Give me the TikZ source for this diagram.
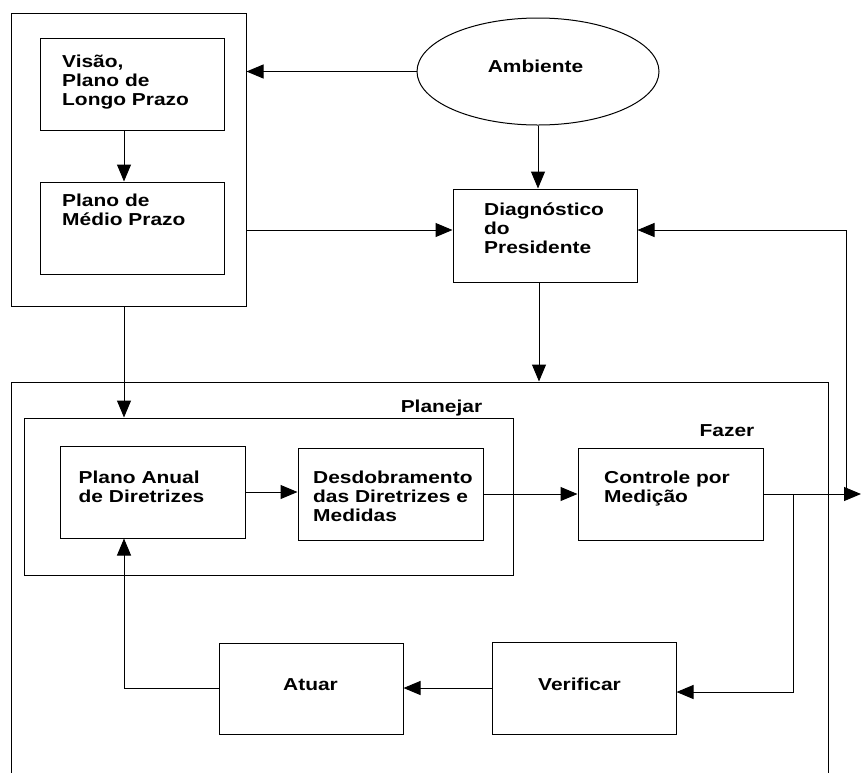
\documentclass[tikz,border=0pt]{standalone}
\usepackage{fontspec}
\newfontfamily\lblfont{Liberation Sans}[FakeStretch=1.21]
\usetikzlibrary{arrows.meta,shapes.geometric}
\begin{document}
\begin{tikzpicture}[x=1pt,y=-1pt,
  box/.style={draw, line width=1pt, minimum width=184pt, minimum height=92pt, inner sep=0pt},
  lbl/.style={font=\lblfont\bfseries\fontsize{17.3}{19}\selectfont, inner sep=0pt, align=left},
  arr/.style={line width=1pt, -{Triangle[length=17pt,width=14pt]}}]
\useasboundingbox (0,0) rectangle (861,772);
\clip (0,0) rectangle (861,772);
% containers
\node[draw, line width=1pt, minimum width=235pt, minimum height=293pt, inner sep=0pt] (L) at (128.5,159.5) {};
\node[draw, line width=1pt, minimum width=816.6pt, minimum height=420pt, inner sep=0pt] (big) at (420,592) {};
\node[draw, line width=1pt, minimum width=489pt, minimum height=157pt, inner sep=0pt] (plan) at (268.5,496.5) {};
% boxes
\node[box] (vis) at (132,84) {};
\node[box] (med) at (132,228) {};
\node[draw, line width=1pt, ellipse, minimum width=242pt, minimum height=107pt, inner sep=0pt] (amb) at (538,71.5) {};
\node[box, minimum height=93pt] (diag) at (545,235.5) {};
\node[box, minimum width=185pt] (anual) at (152.5,492) {};
\node[box, minimum width=185pt] (desd) at (390.5,494) {};
\node[box, minimum width=185pt] (ctrl) at (670.5,494) {};
\node[box, minimum height=91pt] (atuar) at (311,688.5) {};
\node[box] (verif) at (584,688) {};
% texts
\node[lbl, anchor=north west] (tvis) at (62,54.5) {Visão,\\Plano de\\Longo Prazo};
\node[lbl, anchor=north west] (tmed) at (62,193.5) {Plano de\\Médio Prazo};
\node[lbl, anchor=base] (tamb) at (535.5,72) {Ambiente};
\node[lbl, anchor=north west] (tdiag) at (484,202.7) {Diagnóstico\\do\\Presidente};
\node[lbl, anchor=base] (tplan) at (441.5,412) {Planejar};
\node[lbl, anchor=base] (tfaz) at (727,436) {Fazer};
\node[lbl, anchor=north west] (tanual) at (78.5,470.7) {Plano Anual\\de Diretrizes};
\node[lbl, anchor=north west] (tdesd) at (313,470.7) {Desdobramento\\das Diretrizes e\\Medidas};
\node[lbl, anchor=north west] (tctrl) at (604,470.7) {Controle por\\Medição};
\node[lbl, anchor=base] (tatu) at (310.5,690) {Atuar};
\node[lbl, anchor=base] (tver) at (579.5,690) {Verificar};
% connectors
\coordinate (redge) at (861,494);
\coordinate (j1) at (846,494);
\coordinate (j2) at (793,494);
\coordinate (dwl) at ([yshift=5.5pt]diag.west);
\coordinate (der) at ([yshift=5.5pt]diag.east);
\coordinate (ver) at ([yshift=-4pt]verif.east);
\draw[arr] ([xshift=-8pt]vis.south) -- ([xshift=-8pt]med.north);
\draw[arr] (amb.west) -- (amb.west -| L.east);
\draw[arr] (L.east |- dwl) -- (dwl);
\draw[arr] (amb.south) -- (amb.south |- diag.north);
\draw[arr] ([xshift=-6pt]diag.south) -- ([xshift=-6pt]diag.south |- big.north);
\draw[arr] ([xshift=-4.5pt]L.south) -- ([xshift=-4.5pt]L.south |- plan.north);
\draw[arr] (anual.east) -- (anual.east -| desd.west);
\draw[arr] (desd.east) -- (ctrl.west);
\draw[arr] (ctrl.east) -- (ctrl.east -| redge);
\draw[arr] (j1) |- (der);
\draw[arr] (j2) |- (ver);
\draw[arr] (verif.west) -- (verif.west -| atuar.east);
\draw[arr] (atuar.west) -| ([xshift=-28.5pt]anual.south);
\end{tikzpicture}
\end{document}
